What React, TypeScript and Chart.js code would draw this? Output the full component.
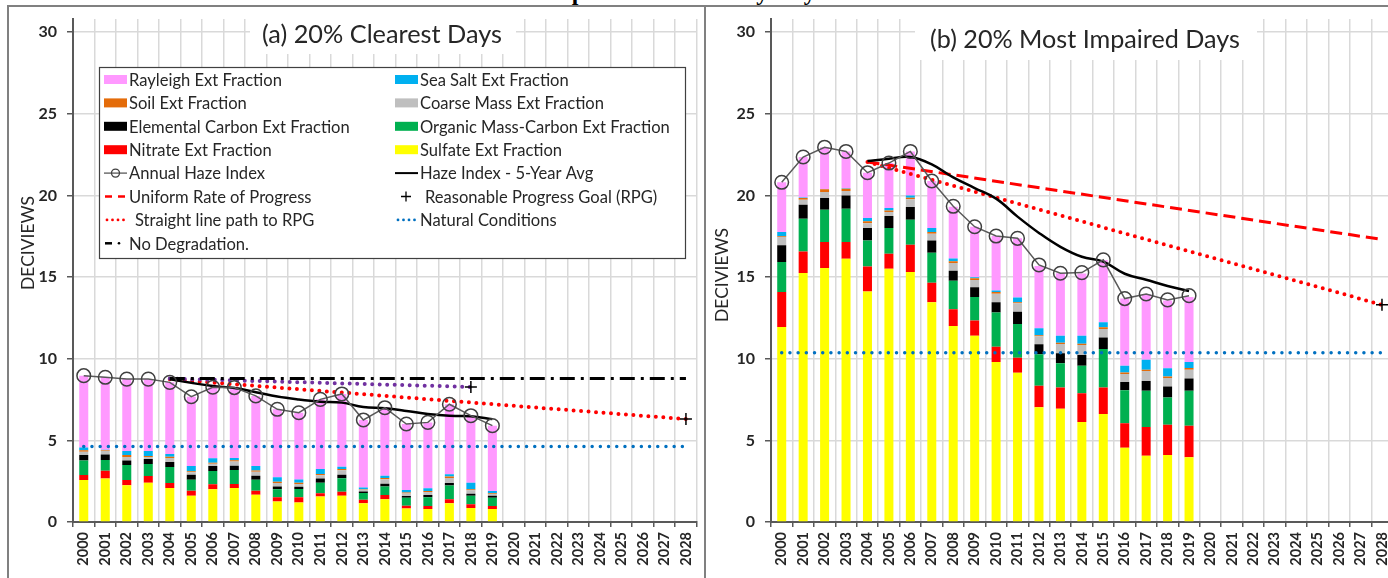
import React, { useEffect, useRef } from "react";
import { Chart, registerables } from "chart.js";
Chart.register(...registerables);

// ---------- categories ----------
const years = [
  "2000", "2001", "2002", "2003", "2004", "2005", "2006", "2007", "2008", "2009",
  "2010", "2011", "2012", "2013", "2014", "2015", "2016", "2017", "2018", "2019",
  "2020", "2021", "2022", "2023", "2024", "2025", "2026", "2027", "2028",
];
const fiveYearYears = [
  "2004", "2005", "2006", "2007", "2008", "2009", "2010", "2011",
  "2012", "2013", "2014", "2015", "2016", "2017", "2018", "2019",
];

// ---------- (a) 20% Clearest Days ----------
const aSulfate = [2.57, 2.67, 2.25, 2.41, 2.08, 1.6, 2.0, 2.08, 1.67, 1.25, 1.2, 1.56, 1.6, 1.15, 1.4, 0.82, 0.8, 1.15, 0.85, 0.8];
const aNitrate = [0.31, 0.47, 0.32, 0.41, 0.31, 0.31, 0.31, 0.25, 0.25, 0.27, 0.31, 0.2, 0.25, 0.21, 0.26, 0.17, 0.18, 0.25, 0.24, 0.18];
const aOrganic = [0.88, 0.66, 0.92, 0.73, 0.98, 0.67, 0.81, 0.86, 0.66, 0.49, 0.51, 0.65, 0.83, 0.41, 0.51, 0.5, 0.53, 0.84, 0.51, 0.51];
const aElemental = [0.34, 0.34, 0.27, 0.31, 0.3, 0.31, 0.31, 0.26, 0.25, 0.16, 0.14, 0.26, 0.21, 0.1, 0.17, 0.1, 0.14, 0.15, 0.13, 0.12];
const aCoarse = [0.2, 0.22, 0.22, 0.12, 0.25, 0.15, 0.14, 0.26, 0.25, 0.22, 0.17, 0.2, 0.28, 0.1, 0.28, 0.15, 0.18, 0.31, 0.22, 0.11];
const aSoil = [0.1, 0.05, 0.12, 0.06, 0.08, 0.06, 0.06, 0.07, 0.07, 0.08, 0.08, 0.07, 0.08, 0.04, 0.08, 0.06, 0.07, 0.08, 0.06, 0.04];
const aSeaSalt = [0.16, 0.02, 0.25, 0.31, 0.16, 0.33, 0.27, 0.14, 0.28, 0.27, 0.2, 0.31, 0.14, 0.11, 0.13, 0.16, 0.16, 0.14, 0.4, 0.14];
const aRayleigh = [4.39, 4.45, 4.4, 4.4, 4.39, 4.24, 4.35, 4.33, 4.29, 4.16, 4.08, 4.26, 4.45, 4.13, 4.18, 4.04, 4.04, 4.29, 4.1, 4.0];
const aAnnual = [8.96, 8.86, 8.75, 8.75, 8.55, 7.67, 8.25, 8.23, 7.72, 6.9, 6.69, 7.51, 7.84, 6.25, 7.0, 6.0, 6.1, 7.21, 6.51, 5.9];
const aFiveYear = [8.74, 8.52, 8.33, 8.2, 7.95, 7.68, 7.5, 7.37, 7.31, 7.04, 6.96, 6.8, 6.61, 6.5, 6.48, 6.3];
const aNoDegYears = ["2004", "2028"];
const aNoDeg = [8.78, 8.78];
const aPrevPathYears = ["2004", "2018"];
const aPrevPath = [8.78, 8.27];
const aPrevRpgYears = ["2018"];
const aPrevRpg = [8.27];
const aGlideYears = ["2004", "2028"];
const aGlide = [8.74, 6.3];
const aRpgYears = ["2028"];
const aRpg = [6.3];
const aNaturalYears = ["2000", "2028"];
const aNatural = [4.62, 4.62];

// ---------- (b) 20% Most Impaired Days ----------
const bSulfate = [11.94, 15.24, 15.55, 16.12, 14.12, 15.51, 15.31, 13.45, 12.0, 11.4, 9.8, 9.14, 7.02, 6.94, 6.12, 6.62, 4.55, 4.05, 4.1, 3.97];
const bNitrate = [2.14, 1.33, 1.59, 1.02, 1.53, 0.92, 1.67, 1.2, 1.02, 0.94, 0.93, 0.92, 1.33, 1.29, 1.76, 1.61, 1.5, 1.77, 1.86, 1.93];
const bOrganic = [1.84, 2.0, 1.98, 2.04, 1.59, 1.57, 1.53, 1.84, 1.76, 1.43, 2.1, 2.06, 1.92, 1.49, 1.69, 2.36, 2.02, 2.22, 1.67, 2.14];
const bElemental = [1.02, 0.86, 0.72, 0.82, 0.76, 0.73, 0.78, 0.75, 0.61, 0.61, 0.63, 0.76, 0.61, 0.61, 0.66, 0.7, 0.5, 0.59, 0.67, 0.74];
const bCoarse = [0.51, 0.3, 0.36, 0.27, 0.3, 0.25, 0.47, 0.41, 0.47, 0.44, 0.52, 0.52, 0.49, 0.57, 0.61, 0.53, 0.5, 0.62, 0.51, 0.55];
const bSoil = [0.05, 0.11, 0.17, 0.14, 0.11, 0.1, 0.1, 0.11, 0.1, 0.1, 0.1, 0.06, 0.06, 0.08, 0.08, 0.1, 0.08, 0.08, 0.1, 0.1];
const bSeaSalt = [0.26, 0.03, 0.02, 0.02, 0.2, 0.14, 0.14, 0.24, 0.18, 0.06, 0.1, 0.28, 0.43, 0.43, 0.49, 0.31, 0.42, 0.6, 0.5, 0.37];
const bRayleigh = [3.04, 2.48, 2.56, 2.26, 2.78, 2.76, 2.69, 2.88, 3.17, 3.1, 3.33, 3.63, 3.82, 3.82, 3.81, 3.82, 4.11, 4.03, 4.16, 3.98];
const bAnnual = [20.8, 22.35, 22.95, 22.69, 21.39, 21.98, 22.69, 20.88, 19.33, 18.08, 17.51, 17.37, 15.74, 15.23, 15.27, 16.05, 13.68, 13.96, 13.6, 13.86];
const bFiveYear = [22.1, 22.25, 22.35, 21.9, 21.1, 20.45, 19.8, 18.7, 17.7, 16.85, 16.24, 15.94, 15.2, 14.83, 14.45, 14.15];
const bUrpYears = ["2004", "2028"];
const bUrp = [22.05, 17.3];
const bGlideYears = ["2004", "2028"];
const bGlide = [22.05, 13.3];
const bRpgYears = ["2028"];
const bRpg = [13.3];
const bNaturalYears = ["2000", "2028"];
const bNatural = [10.37, 10.37];

// ---------- legend text ----------
const legendLeftLabels = [
  "Rayleigh Ext Fraction", "Soil Ext Fraction", "Elemental Carbon Ext Fraction", "Nitrate Ext Fraction",
  "Annual Haze Index", "Uniform Rate of Progress", "Straight line path to RPG", "No Degradation.",
];
const legendLeftKinds = ["rayleigh", "soil", "ec", "nitrate", "annual", "urp", "glide", "nodeg"];
const legendRightLabels = [
  "Sea Salt Ext Fraction", "Coarse Mass Ext Fraction", "Organic Mass-Carbon Ext Fraction", "Sulfate Ext Fraction",
  "Haze Index - 5-Year Avg", "Reasonable Progress Goal (RPG)", "Natural Conditions",
];
const legendRightKinds = ["seasalt", "coarse", "om", "sulfate", "five", "rpg", "natural"];

const COLORS: Record<string, string> = {
  rayleigh: "#FF99FF",
  seasalt: "#00B0F0",
  soil: "#E46C0A",
  coarse: "#BFBFBF",
  ec: "#000000",
  om: "#00B050",
  nitrate: "#FF0000",
  sulfate: "#FFFF00",
};

const FONT = "Lato, 'Open Sans', 'Liberation Sans', sans-serif";
const TEXT = "#262626";
const AXIS = "#595959";
const GRID = "#D9D9D9";

function fitSize(ctx: CanvasRenderingContext2D, text: string, weight: string, target: number) {
  ctx.font = `${weight} 20px ${FONT}`;
  const w = ctx.measureText(text).width;
  return (20 * target) / w;
}

function pts(xs: string[], ys: number[]) {
  return xs.map((x, i) => ({ x, y: ys[i] }));
}

function drawSwatch(ctx: CanvasRenderingContext2D, kind: string, sx: number, cy: number) {
  const w = 23;
  ctx.save();
  if (COLORS[kind]) {
    ctx.fillStyle = COLORS[kind];
    ctx.fillRect(sx, cy - 4.5, w, 9);
  } else if (kind === "annual") {
    ctx.strokeStyle = AXIS;
    ctx.lineWidth = 1.3;
    ctx.beginPath();
    ctx.moveTo(sx, cy);
    ctx.lineTo(sx + w, cy);
    ctx.stroke();
    ctx.strokeStyle = "#404040";
    ctx.beginPath();
    ctx.arc(sx + w / 2, cy, 4, 0, Math.PI * 2);
    ctx.stroke();
  } else if (kind === "five") {
    ctx.strokeStyle = "#000";
    ctx.lineWidth = 2;
    ctx.beginPath();
    ctx.moveTo(sx, cy);
    ctx.lineTo(sx + w, cy);
    ctx.stroke();
  } else if (kind === "urp") {
    ctx.strokeStyle = "#FF0000";
    ctx.lineWidth = 2.5;
    ctx.beginPath();
    ctx.moveTo(sx + 1, cy);
    ctx.lineTo(sx + 8, cy);
    ctx.moveTo(sx + 14, cy);
    ctx.lineTo(sx + 21, cy);
    ctx.stroke();
  } else if (kind === "glide" || kind === "natural") {
    ctx.fillStyle = kind === "glide" ? "#FF0000" : "#0070C0";
    for (let i = 0; i < 4; i++) {
      ctx.beginPath();
      ctx.arc(sx + 3 + i * 5.5, cy, 1.4, 0, Math.PI * 2);
      ctx.fill();
    }
  } else if (kind === "nodeg") {
    ctx.strokeStyle = "#000";
    ctx.lineWidth = 2.5;
    ctx.beginPath();
    ctx.moveTo(sx + 1, cy);
    ctx.lineTo(sx + 8, cy);
    ctx.stroke();
    ctx.fillStyle = "#000";
    ctx.beginPath();
    ctx.arc(sx + 15, cy, 1.3, 0, Math.PI * 2);
    ctx.fill();
  } else if (kind === "rpg") {
    ctx.strokeStyle = "#000";
    ctx.lineWidth = 1.3;
    ctx.beginPath();
    ctx.moveTo(sx + 6, cy);
    ctx.lineTo(sx + 16, cy);
    ctx.moveTo(sx + 11, cy - 5);
    ctx.lineTo(sx + 11, cy + 5);
    ctx.stroke();
  }
  ctx.restore();
}

function drawLegend(ctx: CanvasRenderingContext2D) {
  const x0 = 91, y0 = 61, w = 586, h = 191;
  ctx.save();
  ctx.fillStyle = "#fff";
  ctx.fillRect(x0, y0, w, h);
  ctx.strokeStyle = "#404040";
  ctx.lineWidth = 1.2;
  ctx.strokeRect(x0 + 0.5, y0 + 0.5, w, h);
  const size = fitSize(ctx, "Organic Mass-Carbon Ext Fraction", "400", 250);
  ctx.font = `400 ${size}px ${FONT}`;
  ctx.fillStyle = TEXT;
  ctx.textAlign = "left";
  ctx.textBaseline = "middle";
  const rowY = (i: number) => 73.5 + i * 23.4;
  legendLeftLabels.forEach((t, i) => {
    const k = legendLeftKinds[i];
    drawSwatch(ctx, k, 96, rowY(i));
    const tx = k === "glide" ? 127 : 121;
    ctx.fillStyle = TEXT;
    ctx.fillText(t, tx, rowY(i) + 1);
  });
  legendRightLabels.forEach((t, i) => {
    const k = legendRightKinds[i];
    drawSwatch(ctx, k, 387, rowY(i));
    const tx = k === "rpg" ? 417 : 412;
    ctx.fillStyle = TEXT;
    ctx.fillText(t, tx, rowY(i) + 1);
  });
  ctx.restore();
}

type Panel = {
  key: string;
  title: string;
  titleWidth: number;
  titleX: number;
  titleY: number;
  titleBox: { x: number; y: number; w: number; h: number };
  axisTitleX: number;
  axisTitleY: number;
  yAxisWidth: number;
  padRight: number;
  legend: boolean;
  bars: number[][];
  annual: number[];
  five: number[];
  extra: any[];
};

function overlayPlugin(p: Panel) {
  return {
    id: "overlay" + p.key,
    afterDraw(chart: any) {
      const ctx: CanvasRenderingContext2D = chart.ctx;
      ctx.save();
      const tb = p.titleBox;
      ctx.fillStyle = "#fff";
      ctx.fillRect(tb.x, tb.y, tb.w, tb.h);
      let size = fitSize(ctx, p.title, "400", p.titleWidth);
      ctx.font = `400 ${size}px ${FONT}`;
      ctx.fillStyle = TEXT;
      ctx.textAlign = "center";
      ctx.textBaseline = "middle";
      ctx.fillText(p.title, p.titleX, p.titleY);

      ctx.save();
      ctx.translate(p.axisTitleX, p.axisTitleY);
      ctx.rotate(-Math.PI / 2);
      size = fitSize(ctx, "DECIVIEWS", "400", 94);
      ctx.font = `400 ${size}px ${FONT}`;
      ctx.fillStyle = TEXT;
      ctx.textAlign = "center";
      ctx.textBaseline = "middle";
      ctx.fillText("DECIVIEWS", 0, 0);
      ctx.restore();

      if (p.legend) drawLegend(ctx);
      ctx.restore();
    },
  };
}

const speciesKeys = ["sulfate", "nitrate", "om", "ec", "coarse", "soil", "seasalt", "rayleigh"];
const speciesLabels = [
  "Sulfate Ext Fraction", "Nitrate Ext Fraction", "Organic Mass-Carbon Ext Fraction", "Elemental Carbon Ext Fraction",
  "Coarse Mass Ext Fraction", "Soil Ext Fraction", "Sea Salt Ext Fraction", "Rayleigh Ext Fraction",
];

const dotted = (color: string, width: number, gap: number) => ({
  borderColor: color,
  borderWidth: width,
  borderDash: [0, gap],
  borderCapStyle: "round",
});

function buildConfig(p: Panel): any {
  const bars = p.bars.map((d, i) => ({
    type: "bar",
    label: speciesLabels[i],
    data: d,
    backgroundColor: COLORS[speciesKeys[i]],
    borderWidth: 0,
    stack: "species",
    order: 3,
    barPercentage: 0.42,
    categoryPercentage: 1,
  }));
  const lines = [
    ...p.extra,
    {
      type: "line",
      label: "Haze Index - 5-Year Avg",
      data: pts(fiveYearYears, p.five),
      stack: "five",
      order: 1,
      borderColor: "#000",
      borderWidth: 2.5,
      tension: 0.4,
      pointRadius: 0,
      fill: false,
    },
    {
      type: "line",
      label: "Annual Haze Index",
      data: p.annual,
      stack: "annual",
      order: 0,
      borderColor: AXIS,
      borderWidth: 1.5,
      tension: 0,
      pointStyle: "circle",
      pointRadius: 6.8,
      pointBorderColor: "#404040",
      pointBackgroundColor: "rgba(0,0,0,0)",
      pointBorderWidth: 1.5,
      fill: false,
    },
  ];
  return {
    type: "bar",
    data: { labels: years, datasets: [...bars, ...lines] },
    options: {
      responsive: false,
      animation: false,
      events: [],
      layout: { padding: { top: 13, right: p.padRight, left: 0, bottom: 0 } },
      plugins: { legend: { display: false }, tooltip: { enabled: false }, title: { display: false } },
      scales: {
        x: {
          offset: true,
          grid: { offset: true, color: GRID, lineWidth: 1.5, tickColor: AXIS, tickLength: 5, tickWidth: 1.5 },
          border: { color: AXIS, width: 2 },
          ticks: {
            autoSkip: false,
            maxRotation: 90,
            minRotation: 90,
            padding: 5,
            color: TEXT,
            font: { family: FONT, size: 14.5, weight: "bold" },
          },
          afterFit: (s: any) => {
            s.height = 56;
            s.paddingLeft = 0;
            s.paddingRight = 0;
          },
        },
        y: {
          stacked: true,
          min: 0,
          max: 30.8,
          grid: { color: GRID, lineWidth: 1.5, tickColor: AXIS, tickLength: 6, tickWidth: 1.5 },
          border: { color: AXIS, width: 2 },
          ticks: {
            stepSize: 5,
            includeBounds: false,
            padding: 10,
            color: TEXT,
            font: { family: FONT, size: 16, weight: "bold" },
          },
          afterFit: (s: any) => {
            s.width = p.yAxisWidth;
            s.paddingTop = 0;
            s.paddingBottom = 0;
          },
        },
      },
    },
    plugins: [overlayPlugin(p)],
  };
}

const plusStyle = {
  showLine: false,
  pointStyle: "cross",
  pointRadius: 6,
  pointBorderColor: "#000",
  pointBorderWidth: 1.5,
  borderColor: "#000",
};

const panelA: Panel = {
  key: "a",
  title: "(a) 20% Clearest Days",
  titleWidth: 240,
  titleX: 374,
  titleY: 29,
  titleBox: { x: 242, y: 8, w: 266, h: 40 },
  axisTitleX: 20,
  axisTitleY: 237,
  yAxisWidth: 65,
  padRight: 4.4,
  legend: true,
  bars: [aSulfate, aNitrate, aOrganic, aElemental, aCoarse, aSoil, aSeaSalt, aRayleigh],
  annual: aAnnual,
  five: aFiveYear,
  extra: [
    { type: "line", label: "Reasonable Progress Goal (RPG)", data: pts(aRpgYears, aRpg), stack: "rpg", order: 0, ...plusStyle },
    { type: "line", label: "Previous RPG", data: pts(aPrevRpgYears, aPrevRpg), stack: "prpg", order: 0, ...plusStyle },
    {
      type: "line", label: "No Degradation.", data: pts(aNoDegYears, aNoDeg), stack: "nodeg", order: 2,
      borderColor: "#000", borderWidth: 3, borderDash: [15, 6, 3, 6], pointRadius: 0, spanGaps: true, fill: false,
    },
    {
      type: "line", label: "Previous path", data: pts(aPrevPathYears, aPrevPath), stack: "ppath", order: 2,
      ...dotted("#7030A0", 4, 7.5), pointRadius: 0, spanGaps: true, fill: false,
    },
    {
      type: "line", label: "Straight line path to RPG", data: pts(aGlideYears, aGlide), stack: "glide", order: 2,
      ...dotted("#FF0000", 4, 7.5), pointRadius: 0, spanGaps: true, fill: false,
    },
    {
      type: "line", label: "Natural Conditions", data: pts(aNaturalYears, aNatural), stack: "nat", order: 2,
      ...dotted("#0070C0", 3.5, 8.2), pointRadius: 0, spanGaps: true, fill: false,
    },
  ],
};

const panelB: Panel = {
  key: "b",
  title: "(b) 20% Most Impaired Days",
  titleWidth: 310,
  titleX: 378,
  titleY: 34,
  titleBox: { x: 208, y: 12, w: 342, h: 42 },
  axisTitleX: 15,
  axisTitleY: 269,
  yAxisWidth: 64,
  padRight: 4,
  legend: false,
  bars: [bSulfate, bNitrate, bOrganic, bElemental, bCoarse, bSoil, bSeaSalt, bRayleigh],
  annual: bAnnual,
  five: bFiveYear,
  extra: [
    { type: "line", label: "Reasonable Progress Goal (RPG)", data: pts(bRpgYears, bRpg), stack: "rpg", order: 0, ...plusStyle },
    {
      type: "line", label: "Uniform Rate of Progress", data: pts(bUrpYears, bUrp), stack: "urp", order: 2,
      borderColor: "#FF0000", borderWidth: 3, borderDash: [12, 6], pointRadius: 0, spanGaps: true, fill: false,
    },
    {
      type: "line", label: "Straight line path to RPG", data: pts(bGlideYears, bGlide), stack: "glide", order: 2,
      ...dotted("#FF0000", 4, 7.5), pointRadius: 0, spanGaps: true, fill: false,
    },
    {
      type: "line", label: "Natural Conditions", data: pts(bNaturalYears, bNatural), stack: "nat", order: 2,
      ...dotted("#0070C0", 3.5, 8.2), pointRadius: 0, spanGaps: true, fill: false,
    },
  ],
};

export default function App() {
  const leftRef = useRef<HTMLCanvasElement>(null);
  const rightRef = useRef<HTMLCanvasElement>(null);
  useEffect(() => {
    const c1 = new Chart(leftRef.current as HTMLCanvasElement, buildConfig(panelA));
    const c2 = new Chart(rightRef.current as HTMLCanvasElement, buildConfig(panelB));
    return () => {
      c1.destroy();
      c2.destroy();
    };
  }, []);
  const line = "2px solid #808080";
  return (
    <div style={{ position: "fixed", left: 0, top: 0, width: 1388, height: 578, overflow: "hidden", background: "#fff" }}>
      <div
        style={{
          position: "absolute", left: -25, top: -20, width: 1388, textAlign: "center", whiteSpace: "nowrap",
          font: "bold 24px 'Liberation Serif', serif", lineHeight: "24px", color: "#000",
        }}
      >
        Composition of Haze by Day
      </div>
      <div style={{ position: "absolute", left: 7, top: 5, width: 1381, height: 0, borderTop: line }} />
      <div style={{ position: "absolute", left: 7, top: 5, width: 0, height: 580, borderLeft: line }} />
      <div style={{ position: "absolute", left: 704, top: 5, width: 0, height: 580, borderLeft: line }} />
      <canvas ref={leftRef} width={697} height={572} style={{ position: "absolute", left: 8, top: 6 }} />
      <canvas ref={rightRef} width={694} height={572} style={{ position: "absolute", left: 707, top: 6 }} />
    </div>
  );
}
